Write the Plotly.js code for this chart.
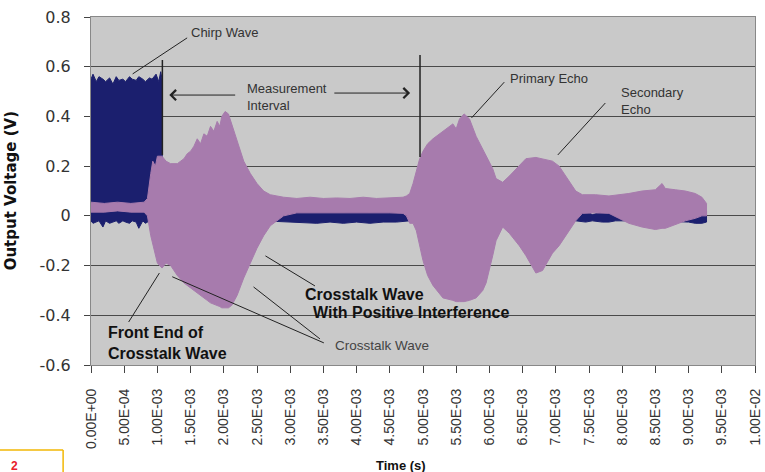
<!DOCTYPE html>
<html>
<head>
<meta charset="utf-8">
<script src="https://cdn.plot.ly/plotly-3.0.1.min.js"></script>
<style>html,body{margin:0;padding:0;background:#fff;}#chart{width:765px;height:472px;}</style>
</head>
<body>
<div id="chart"></div>
<script>
// ---- DATA (time in ms, voltage in V) ----
// Chirp wave (navy) envelope
var chirpTime  = [0, 0.03, 0.08, 0.12, 0.18, 0.22, 0.28, 0.33, 0.38, 0.42, 0.48, 0.52, 0.58, 0.62, 0.68, 0.72, 0.78, 0.82, 0.88, 0.92, 0.98, 1.02, 1.05, 1.07,
                  1.075, 1.5, 2.0, 2.6, 2.8, 3.0, 3.2, 3.4, 3.6, 3.8, 4.0, 4.2, 4.4, 4.6, 4.8, 5.5, 6.5, 7.3, 7.35, 7.45, 7.55, 7.7, 7.8, 7.9, 8.5, 9.0, 9.1, 9.2, 9.27];
var chirpUpper = [0.55, 0.57, 0.54, 0.56, 0.55, 0.54, 0.555, 0.53, 0.56, 0.545, 0.55, 0.54, 0.56, 0.55, 0.545, 0.56, 0.55, 0.54, 0.555, 0.55, 0.57, 0.54, 0.58, 0.55,
                  0.01, 0.01, 0.01, 0.005, 0.01, 0.012, 0.015, 0.015, 0.018, 0.015, 0.02, 0.015, 0.018, 0.012, 0.005, 0.0, 0.0, 0.0, 0.03, 0.02, 0.005, 0.015, 0.025, 0.01, 0.0, 0.01, 0.02, 0.025, 0.02];
var chirpLower = [-0.02, -0.03, -0.025, -0.02, -0.045, -0.02, -0.03, -0.025, -0.02, -0.03, -0.02, -0.025, -0.03, -0.02, -0.025, -0.05, -0.02, -0.03, -0.02, -0.025, -0.02, -0.025, -0.02, -0.02,
                  -0.02, -0.02, -0.02, -0.02, -0.025, -0.025, -0.028, -0.03, -0.025, -0.03, -0.025, -0.03, -0.025, -0.025, -0.02, -0.02, -0.02, -0.02, -0.02, -0.025, -0.02, -0.025, -0.025, -0.02, -0.02, -0.025, -0.03, -0.03, -0.025];

// Received signal (pink) envelope
var echoTime  = [0, 0.2, 0.4, 0.6, 0.8, 0.85, 0.9, 0.93, 0.97, 1.0, 1.07, 1.13, 1.2, 1.3, 1.4, 1.45, 1.5, 1.55, 1.6, 1.65, 1.7, 1.75, 1.8, 1.85, 1.9, 1.94, 1.97, 2.02, 2.07, 2.12, 2.2, 2.3, 2.4, 2.5, 2.6, 2.7, 2.8, 2.9,
                 3.1, 3.3, 3.5, 3.7, 3.9, 4.1, 4.3, 4.5, 4.7, 4.75, 4.8, 4.85, 4.9, 4.95, 5.0, 5.07, 5.15, 5.3, 5.45, 5.5, 5.55, 5.62, 5.7, 5.8, 5.9, 5.95, 6.05, 6.1, 6.2, 6.3, 6.45, 6.55, 6.7, 6.8, 6.95, 7.05, 7.15, 7.25, 7.3, 7.4,
                 7.6, 7.8, 7.95, 8.1, 8.3, 8.5, 8.6, 8.65, 8.8, 8.95, 9.1, 9.2, 9.27];
var echoUpper = [0.055, 0.05, 0.055, 0.05, 0.055, 0.07, 0.17, 0.22, 0.2, 0.24, 0.24, 0.22, 0.21, 0.21, 0.23, 0.25, 0.26, 0.28, 0.31, 0.29, 0.33, 0.32, 0.36, 0.34, 0.38, 0.36, 0.4, 0.42, 0.41, 0.37, 0.3, 0.22, 0.17, 0.13, 0.1, 0.085, 0.08, 0.075,
                 0.07, 0.075, 0.07, 0.072, 0.07, 0.075, 0.07, 0.072, 0.075, 0.08, 0.09, 0.13, 0.18, 0.23, 0.26, 0.29, 0.31, 0.34, 0.37, 0.35, 0.39, 0.41, 0.39, 0.32, 0.27, 0.24, 0.19, 0.15, 0.135, 0.16, 0.2, 0.23, 0.235, 0.23, 0.22, 0.2, 0.16, 0.12, 0.1, 0.085,
                 0.085, 0.08, 0.085, 0.09, 0.1, 0.105, 0.13, 0.11, 0.105, 0.1, 0.09, 0.075, 0.05];
var echoLower = [0.015, 0.015, 0.02, 0.015, 0.015, 0.0, -0.08, -0.12, -0.16, -0.19, -0.21, -0.19, -0.2, -0.24, -0.27, -0.28, -0.29, -0.3, -0.31, -0.32, -0.33, -0.34, -0.35, -0.355, -0.36, -0.365, -0.37, -0.37, -0.37, -0.36, -0.32, -0.25, -0.19, -0.13, -0.08, -0.04, -0.02, 0.0,
                 0.012, 0.012, 0.012, 0.012, 0.012, 0.012, 0.012, 0.012, 0.01, 0.0, -0.03, -0.03, -0.06, -0.12, -0.18, -0.24, -0.28, -0.33, -0.34, -0.345, -0.345, -0.345, -0.34, -0.33, -0.3, -0.27, -0.16, -0.1, -0.045, -0.07, -0.12, -0.16, -0.23, -0.22, -0.15, -0.12, -0.08, -0.04, -0.02, 0.01,
                 0.012, 0.01, -0.01, -0.03, -0.045, -0.055, -0.05, -0.05, -0.035, -0.02, -0.01, 0.0, 0.0];

// Axis ticks
var xTickVals = [0, 0.5, 1, 1.5, 2, 2.5, 3, 3.5, 4, 4.5, 5, 5.5, 6, 6.5, 7, 7.5, 8, 8.5, 9, 9.5, 10];
var xTickText = ["0.00E+00", "5.00E-04", "1.00E-03", "1.50E-03", "2.00E-03", "2.50E-03", "3.00E-03", "3.50E-03", "4.00E-03", "4.50E-03", "5.00E-03",
                 "5.50E-03", "6.00E-03", "6.50E-03", "7.00E-03", "7.50E-03", "8.00E-03", "8.50E-03", "9.00E-03", "9.50E-03", "1.00E-02"];
var yTickVals = [-0.6, -0.4, -0.2, 0, 0.2, 0.4, 0.6, 0.8];
var yTickText = ["-0.6", "-0.4", "-0.2", "0", "0.2", "0.4", "0.6", "0.8"];

// ---- build envelope polygons ----
function band(t, up, lo) {
  return {
    x: t.concat(t.slice().reverse()),
    y: up.concat(lo.slice().reverse())
  };
}
var navy = '#1b1f6e', pink = '#a77bad';
var cb = band(chirpTime, chirpUpper, chirpLower);
var eb = band(echoTime, echoUpper, echoLower);

var traces = [
  {x: cb.x, y: cb.y, type: 'scatter', mode: 'lines', fill: 'toself', fillcolor: navy,
   line: {color: navy, width: 1}, hoverinfo: 'skip', showlegend: false},
  {x: eb.x, y: eb.y, type: 'scatter', mode: 'lines', fill: 'toself', fillcolor: pink,
   line: {color: pink, width: 1}, hoverinfo: 'skip', showlegend: false}
];

function seg(x0, y0, x1, y1, w) {
  return {type: 'line', xref: 'x', yref: 'y', x0: x0, y0: y0, x1: x1, y1: y1,
          line: {color: '#222', width: w || 1}};
}
var shapes = [
  seg(1.448, 0.716, 0.627, 0.571),       // Chirp Wave pointer
  seg(1.075, 0.627, 1.075, 0.245, 1.5),  // start of measurement
  seg(4.955, 0.647, 4.955, 0.237, 1.5),  // end marker
  seg(6.224, 0.538, 5.731, 0.394),       // primary echo
  seg(7.746, 0.454, 7.03, 0.245),        // secondary echo
  seg(2.627, -0.161, 3.373, -0.282),     // crosstalk positive
  seg(0.567, -0.427, 1.03, -0.23),       // front end
  seg(1.224, -0.245, 3.507, -0.511),     // crosstalk wave 1
  seg(2.448, -0.286, 3.448, -0.495),     // crosstalk wave 2
  // page artefact box (bottom-left)
  {type: 'line', xref: 'paper', yref: 'paper', x0: -0.14, y0: -0.244, x1: -0.042, y1: -0.244, line: {color: '#f2b705', width: 1.5}},
  {type: 'line', xref: 'paper', yref: 'paper', x0: -0.042, y0: -0.244, x1: -0.042, y1: -0.32, line: {color: '#f2b705', width: 1.5}}
];

var thin = {family: 'Liberation Sans, Arial, sans-serif', size: 13, color: '#333'};
var bold = {family: 'Liberation Sans, Arial, sans-serif', size: 16, color: '#111'};
function txt(x, y, text, font) {
  return {x: x, y: y, xref: 'x', yref: 'y', text: text, showarrow: false, xanchor: 'left', yanchor: 'middle', align: 'left', font: font};
}
var annotations = [
  txt(1.478, 0.736, 'Chirp Wave', thin),
  txt(2.313, 0.478, 'Measurement<br>Interval', thin),
  txt(6.284, 0.551, 'Primary Echo', thin),
  txt(7.955, 0.462, 'Secondary<br>Echo', thin),
  txt(3.19, -0.318, '<b>Crosstalk Wave</b>', bold),
  txt(3.31, -0.39, '<b>With Positive Interference</b>', bold),
  txt(0.224, -0.511, '<b>Front End of<br>Crosstalk Wave</b>', bold),
  txt(3.64, -0.523, 'Crosstalk Wave', {family: 'Liberation Sans, Arial, sans-serif', size: 13.5, color: '#444'}),
  // arrows of the measurement interval
  {x: 1.179, y: 0.486, ax: 2.194, ay: 0.486, xref: 'x', yref: 'y', axref: 'x', ayref: 'y', text: '', showarrow: true,
   arrowhead: 4, arrowsize: 2, arrowwidth: 1, arrowcolor: '#222'},
  {x: 4.806, y: 0.494, ax: 3.642, ay: 0.494, xref: 'x', yref: 'y', axref: 'x', ayref: 'y', text: '', showarrow: true,
   arrowhead: 4, arrowsize: 2, arrowwidth: 1, arrowcolor: '#222'},
  // axis titles
  {x: -0.12, y: 0.5, xref: 'paper', yref: 'paper', text: '<b>Output Voltage (V)</b>', textangle: -90, showarrow: false,
   font: {family: 'DejaVu Sans, sans-serif', size: 15, color: '#111'}, xanchor: 'center', yanchor: 'middle'},
  {x: 0.467, y: -0.29, xref: 'paper', yref: 'paper', text: '<b>Time (s)</b>', showarrow: false,
   font: {family: 'Liberation Sans, Arial, sans-serif', size: 13, color: '#111'}, xanchor: 'center', yanchor: 'middle'},
  // page artefact
  {x: -0.115, y: -0.29, xref: 'paper', yref: 'paper', text: '<b>2</b>', showarrow: false,
   font: {family: 'Liberation Sans, Arial, sans-serif', size: 12, color: '#e8202a'}, xanchor: 'center', yanchor: 'middle'}
];

var layout = {
  width: 765, height: 472,
  margin: {l: 91, r: 10, t: 17, b: 107, pad: 0},
  paper_bgcolor: '#ffffff',
  plot_bgcolor: '#c9c9c9',
  showlegend: false,
  xaxis: {
    range: [0, 10], tickmode: 'array', tickvals: xTickVals, ticktext: xTickText, tickangle: -90,
    ticks: 'outside', ticklen: 7, tickcolor: '#444', showgrid: false, zeroline: false,
    showline: true, mirror: true, linecolor: '#888', linewidth: 1,
    ticklabelstandoff: 10, ticklabeloverflow: 'allow',
    tickfont: {family: 'Liberation Sans, Arial, sans-serif', size: 14, color: '#333'}
  },
  yaxis: {
    range: [-0.6, 0.8], tickmode: 'array', tickvals: yTickVals, ticktext: yTickText,
    ticks: 'outside', ticklen: 6, tickcolor: '#444', showgrid: true, gridcolor: '#4a4a4a', gridwidth: 1,
    zeroline: false, showline: true, mirror: true, linecolor: '#888', linewidth: 1,
    ticklabelstandoff: 10,
    tickfont: {family: 'DejaVu Sans, sans-serif', size: 16, color: '#333'}
  },
  shapes: shapes,
  annotations: annotations
};

Plotly.newPlot('chart', traces, layout, {staticPlot: true, displayModeBar: false});
</script>
</body>
</html>
